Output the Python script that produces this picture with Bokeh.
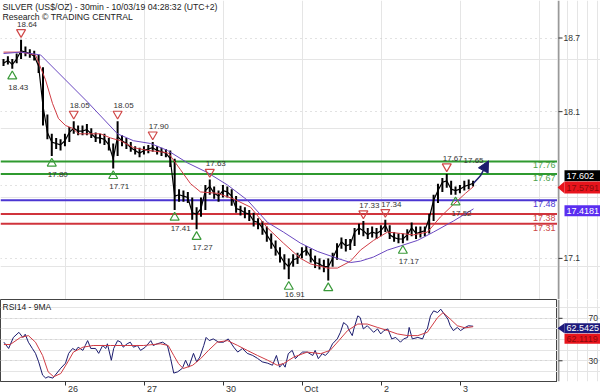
import numpy as np
from bokeh.plotting import figure
from bokeh.layouts import column, row
from bokeh.models import (Range1d, FixedTicker, Span, Label, Grid, Arrow, NormalHead)
from bokeh.embed import file_html
from bokeh.resources import INLINE
from bokeh.core.properties import value

# ---------------- data ----------------
title_text = "SILVER (US$/OZ) - 30min - 10/03/19 04:28:32 (UTC+2)"
source_text = "Research \u00a9 TRADING CENTRAL"

day_ticks = [0, 1, 2, 3, 4, 5]
day_labels = ["26", "27", "30", "Oct", "2", "3"]

# bar times (trading days after 26 Sep 00:00), regular sampling of the session
bar_start, bar_step, bar_count = -0.785, 1.0 / 18.0, 108

close = [
    18.47, 18.49, 18.46, 18.50, 18.56, 18.55, 18.54, 18.52, 18.45, 18.16,
    17.97, 17.90, 17.89, 17.88, 17.91, 17.97, 18.00, 17.98, 17.98, 17.99,
    17.96, 17.93, 17.93, 17.92, 17.88, 17.78, 17.94, 17.91, 17.89, 17.86,
    17.84, 17.82, 17.84, 17.85, 17.86, 17.84, 17.83, 17.82, 17.78, 17.51,
    17.52, 17.51, 17.50, 17.39, 17.38, 17.42, 17.55, 17.58, 17.53, 17.51,
    17.55, 17.54, 17.51, 17.42, 17.41, 17.39, 17.38, 17.33, 17.32, 17.28,
    17.23, 17.18, 17.13, 17.08, 17.03, 17.00, 17.05, 17.06, 17.10, 17.12,
    17.07, 17.03, 17.02, 17.00, 17.00, 17.06, 17.13, 17.18, 17.15, 17.16,
    17.25, 17.28, 17.26, 17.23, 17.25, 17.24, 17.26, 17.30, 17.23, 17.21,
    17.20, 17.20, 17.23, 17.28, 17.24, 17.25, 17.26, 17.35, 17.48, 17.55,
    17.61, 17.62, 17.56, 17.55, 17.56, 17.58, 17.59, 17.602]
high = [
    18.50, 18.52, 18.50, 18.54, 18.64, 18.59, 18.57, 18.56, 18.53, 18.44,
    18.10, 17.96, 17.93, 17.92, 17.96, 18.01, 18.05, 18.02, 18.02, 18.03,
    18.00, 17.97, 17.96, 17.96, 17.93, 17.89, 18.05, 17.95, 17.93, 17.90,
    17.87, 17.86, 17.87, 17.88, 17.90, 17.87, 17.86, 17.85, 17.84, 17.78,
    17.56, 17.55, 17.54, 17.50, 17.43, 17.50, 17.59, 17.63, 17.58, 17.55,
    17.59, 17.58, 17.56, 17.51, 17.44, 17.43, 17.41, 17.39, 17.35, 17.33,
    17.29, 17.24, 17.19, 17.14, 17.09, 17.06, 17.09, 17.10, 17.14, 17.15,
    17.13, 17.08, 17.06, 17.05, 17.06, 17.10, 17.17, 17.21, 17.20, 17.20,
    17.28, 17.31, 17.33, 17.28, 17.29, 17.28, 17.30, 17.34, 17.30, 17.25,
    17.24, 17.24, 17.27, 17.32, 17.29, 17.29, 17.29, 17.38, 17.52, 17.60,
    17.64, 17.67, 17.62, 17.58, 17.59, 17.62, 17.63, 17.62]
low = [
    18.45, 18.46, 18.43, 18.47, 18.50, 18.52, 18.51, 18.49, 18.40, 18.02,
    17.92, 17.80, 17.85, 17.84, 17.87, 17.90, 17.96, 17.95, 17.95, 17.95,
    17.93, 17.90, 17.89, 17.88, 17.84, 17.71, 17.80, 17.87, 17.85, 17.83,
    17.81, 17.79, 17.81, 17.82, 17.83, 17.81, 17.80, 17.79, 17.72, 17.41,
    17.47, 17.47, 17.46, 17.34, 17.27, 17.36, 17.41, 17.52, 17.49, 17.47,
    17.50, 17.50, 17.44, 17.39, 17.37, 17.35, 17.33, 17.29, 17.27, 17.23,
    17.18, 17.13, 17.08, 17.03, 16.98, 16.91, 17.00, 17.02, 17.06, 17.08,
    17.03, 16.99, 16.98, 16.96, 16.90, 17.00, 17.05, 17.13, 17.11, 17.12,
    17.15, 17.23, 17.22, 17.20, 17.21, 17.20, 17.22, 17.25, 17.20, 17.18,
    17.17, 17.17, 17.19, 17.22, 17.20, 17.21, 17.22, 17.24, 17.33, 17.46,
    17.54, 17.57, 17.52, 17.52, 17.53, 17.55, 17.56, 17.58]

ma_fast_t = [-0.785, -0.570, -0.380, -0.253, -0.165, -0.089, 0.0, 0.089, 0.165, 0.443,
             0.570, 0.696, 0.861, 1.038, 1.203, 1.304, 1.456, 1.582, 1.709, 1.924,
             2.127, 2.342, 2.557, 2.759, 2.975, 3.101, 3.316, 3.443, 3.608, 3.734,
             3.899, 4.076, 4.241, 4.405, 4.582, 4.747, 4.911, 5.063, 5.165]
ma_fast_v = [18.55, 18.55, 18.53, 18.35, 18.18, 18.07, 18.02, 18.00, 17.96, 17.96,
             17.93, 17.91, 17.86, 17.84, 17.83, 17.82, 17.70, 17.60, 17.54, 17.53,
             17.49, 17.43, 17.28, 17.17, 17.06, 17.02, 16.99, 16.99, 17.04, 17.12,
             17.19, 17.25, 17.24, 17.23, 17.25, 17.36, 17.45, 17.53, 17.5791]

ma_slow_t = [-0.785, -0.570, -0.316, 0.278, 0.658, 0.861, 1.076, 1.291, 1.544, 1.797,
             2.051, 2.304, 2.557, 2.759, 2.975, 3.190, 3.443, 3.608, 3.734, 3.899,
             4.076, 4.241, 4.456, 4.658, 4.911, 5.165]
ma_slow_v = [18.54, 18.55, 18.53, 18.19, 17.96, 17.91, 17.89, 17.84, 17.75, 17.68,
             17.59, 17.48, 17.32, 17.25, 17.17, 17.11, 17.06, 17.03, 17.04, 17.07,
             17.12, 17.15, 17.19, 17.25, 17.33, 17.4181]

pivot_high_idx = [4, 16, 26, 34, 47, 82, 87, 101]
pivot_high_lbl = ["18.64", "18.05", "18.05", "17.90", "17.63", "17.33", "17.34", "17.67"]
pivot_low_idx = [2, 11, 25, 39, 44, 65, 74, 91, 103]
pivot_low_lbl = ["18.43", "17.80", "17.71", "17.41", "17.27", "16.91", "", "17.17", "17.52"]

levels = [17.76, 17.67, 17.48, 17.38, 17.31]
level_colors = ["#2f9a2f", "#2f9a2f", "#4b36d2", "#d0343c", "#d0343c"]
level_text_colors = ["#4a9f4a", "#4a9f4a", "#4b36d2", "#cc4646", "#cc4646"]

proj_t = [5.165, 5.25, 5.355]
proj_v = [17.602, 17.655, 17.765]
proj_label = "17.65"

last_price, last_fast, last_slow = 17.602, 17.5791, 17.4181

price_ticks = [17.06, 18.12, 18.652]
price_grid = [17.06, 17.59, 18.12, 18.652]

rsi_t = [-0.78, -0.72, -0.66, -0.59, -0.54, -0.51, -0.47, -0.42, -0.38, -0.34,
         -0.29, -0.25, -0.22, -0.16, -0.13, -0.06, 0.00, 0.04, 0.09, 0.13,
         0.16, 0.22, 0.25, 0.28, 0.32, 0.38, 0.42, 0.47, 0.51, 0.53,
         0.58, 0.61, 0.66, 0.70, 0.73, 0.78, 0.82, 0.86, 0.91, 0.95,
         1.01, 1.08, 1.11, 1.16, 1.23, 1.29, 1.33, 1.37, 1.42, 1.48,
         1.52, 1.56, 1.62, 1.66, 1.70, 1.75, 1.78, 1.82, 1.87, 1.94,
         2.00, 2.06, 2.13, 2.18, 2.24, 2.30, 2.37, 2.43, 2.49, 2.56,
         2.62, 2.67, 2.71, 2.75, 2.78, 2.82, 2.87, 2.91, 2.95, 3.00,
         3.06, 3.13, 3.16, 3.20, 3.25, 3.29, 3.33, 3.38, 3.44, 3.48,
         3.52, 3.57, 3.58, 3.63, 3.65, 3.70, 3.73, 3.77, 3.82, 3.86,
         3.90, 3.95, 3.99, 4.03, 4.08, 4.13, 4.18, 4.24, 4.28, 4.33,
         4.35, 4.39, 4.46, 4.52, 4.56, 4.58, 4.62, 4.66, 4.71, 4.75,
         4.78, 4.84, 4.87, 4.91, 4.96, 5.00, 5.06, 5.10, 5.16]
rsi_v = [47.5, 41.6, 52, 56.8, 52, 55, 47.5, 41.6, 37, 29,
         16.5, 13.7, 15, 13.7, 16.5, 23, 27.7, 37, 41.6, 39.8,
         42.8, 39.8, 44.4, 49, 41.6, 41.6, 37, 44.4, 41.6, 46,
         30.5, 41.6, 49, 47.5, 42.8, 46, 47.5, 42.8, 44.4, 39.8,
         42.8, 49, 44.4, 46, 47.5, 44.4, 32.3, 18.4, 19.6, 23,
         30.5, 24, 37, 29, 33.5, 44.4, 52, 49, 50.6, 47.5,
         47.5, 50.6, 42.8, 38.2, 41.6, 37, 35, 32.3, 29, 27.7,
         25.8, 35, 24, 27.4, 24, 36.7, 39.8, 32, 35, 38.2,
         38.2, 35, 39.8, 32, 36.7, 35, 38.2, 46, 50.6, 56.8,
         66, 63, 60, 53.7, 60, 72.3, 70.7, 60, 63, 60,
         56.8, 60, 55.3, 58.4, 60, 50.6, 52, 47.5, 50.6, 52,
         61.4, 50.6, 52, 50.6, 58.4, 60, 72.3, 77, 75.4, 78.6,
         75.4, 69.3, 63, 58.4, 61.4, 58.4, 61.4, 63, 62.5425]
rsi_ma_t = [-0.78, -0.70, -0.57, -0.47, -0.38, -0.29, -0.22, -0.15, -0.06, 0.03,
            0.10, 0.22, 0.35, 0.57, 0.78, 0.99, 1.20, 1.30, 1.37, 1.43,
            1.49, 1.61, 1.71, 1.81, 1.92, 2.05, 2.18, 2.30, 2.43, 2.56,
            2.68, 2.76, 2.89, 3.06, 3.23, 3.35, 3.46, 3.57, 3.70, 3.82,
            3.95, 4.08, 4.20, 4.33, 4.46, 4.58, 4.71, 4.78, 4.87, 4.96,
            5.06, 5.16]
rsi_ma_v = [45.3, 45.3, 52, 53.7, 47.5, 35, 19.6, 15, 18, 29,
            38.2, 42.8, 44.4, 44.4, 44.4, 44.4, 46, 44.4, 35, 27.4,
            22.7, 25.8, 32, 39.8, 47.5, 49, 44.4, 39.8, 35, 30.5,
            25.8, 27.4, 33.5, 38.2, 36.7, 39.8, 49, 58.4, 64.6, 64.6,
            61.4, 58.4, 55.3, 53.7, 53.7, 56.8, 70.7, 75.4, 69.3, 63,
            61.0, 62.1119]
rsi_ticks = [30, 70]
rsi_grid = [30, 50, 70]

# ---------------- layout constants ----------------
FONT = "Liberation Sans"
X0, X1 = -0.823, 6.228
P_LO, P_HI = 16.763, 18.923
R_LO, R_HI = 10.5, 87.7
FW, SW, H_MAIN, H_RSI = 557, 43, 299, 82
PX = (P_HI - P_LO) / H_MAIN          # price units per pixel
RPX = (R_HI - R_LO) / H_RSI

t = bar_start + np.arange(bar_count) * bar_step
close = np.array(close); high = np.array(high); low = np.array(low)

NAVY = "#1c1c6e"
RED_MA = "#d03c44"
PURPLE = "#6a48c0"
GRID_KW = dict(grid_line_color="#c4c4c4", grid_line_dash="1 4")


def base_fig(fw, fh, xr, yr, x_axis=None):
    f = figure(frame_width=fw, frame_height=fh, x_range=xr, y_range=yr,
               x_axis_location=x_axis, y_axis_location=None,
               toolbar_location=None, output_backend="svg",
               min_border_left=0, min_border_top=0, min_border_bottom=0, min_border_right=0)
    f.outline_line_color = None
    f.background_fill_color = "white"
    f.border_fill_color = "white"
    return f


# ---------------- main price panel ----------------
p1 = base_fig(FW, H_MAIN, Range1d(X0, X1), Range1d(P_LO, P_HI))
p1.add_layout(Grid(dimension=1, ticker=FixedTicker(ticks=price_grid), **GRID_KW))

for lv, c in zip(levels, level_colors):
    p1.add_layout(Span(location=lv, dimension="width", line_color=c, line_width=2,
                       level="underlay"))

p1.segment(x0=t, y0=low, x1=t, y1=high, line_color="black", line_width=2)
p1.line(t, close, line_color="black", line_width=1.2)
p1.line(ma_fast_t, ma_fast_v, line_color=RED_MA, line_width=1)
p1.line(ma_slow_t, ma_slow_v, line_color=PURPLE, line_width=1)

# pivots
ht = t[pivot_high_idx]; hv = high[pivot_high_idx]
lt = t[pivot_low_idx]; lv_ = low[pivot_low_idx]
low_off = [min(18.5, (v - P_LO) / PX - 5.5) for v in lv_]
p1.scatter(ht, hv + 7.5 * PX, marker="inverted_triangle", size=9, fill_color=None,
           line_color="#d04848", line_width=1.2)
p1.scatter(lt, lv_ - 7.5 * PX, marker="triangle", size=9, fill_color=None,
           line_color="#3a9a3a", line_width=1.2)
p1.text(x=ht, y=hv, text=pivot_high_lbl, x_offset=6, y_offset=-15.5,
        text_align="center", text_baseline="middle", text_font=value(FONT),
        text_font_size="8px", text_color="#333333")
p1.text(x=lt, y=lv_, text=pivot_low_lbl, x_offset=6, y_offset=low_off,
        text_align="center", text_baseline="middle", text_font=value(FONT),
        text_font_size="8px", text_color="#333333")

# projection arrow
p1.line(proj_t[:2], proj_v[:2], line_color=NAVY, line_width=1.5)
p1.add_layout(Arrow(end=NormalHead(size=11, fill_color=NAVY, line_color=NAVY),
                    x_start=proj_t[1], y_start=proj_v[1], x_end=proj_t[2], y_end=proj_v[2],
                    line_color=NAVY, line_width=1.5))
p1.text(x=[proj_t[2]], y=[proj_v[2]], text=[proj_label], x_offset=-15, y_offset=0,
        text_align="center", text_baseline="middle", text_font=value(FONT),
        text_font_size="8px", text_color="#333333")

# level labels
for lv, c in zip(levels, level_text_colors):
    p1.add_layout(Label(x=FW - 2, y=lv, x_units="screen", text=f"{lv:.2f}",
                        text_align="right", text_baseline="top", y_offset=-1,
                        text_font=FONT, text_font_size="9px", text_color=c))

# header
p1.add_layout(Label(x=2, y=H_MAIN - 6, x_units="screen", y_units="screen", text=title_text,
                    text_baseline="middle", text_font=FONT, text_font_size="8.7px",
                    text_color="#222222"))
p1.add_layout(Label(x=2, y=H_MAIN - 16.5, x_units="screen", y_units="screen", text=source_text,
                    text_baseline="middle", text_font=FONT, text_font_size="8.7px",
                    text_color="#222222"))


# ---------------- right-hand scale strips ----------------
def scale_strip(yr, fh, ticks, labels, label_x):
    s = base_fig(SW, fh, Range1d(0, SW), yr)
    s.segment(x0=[1], y0=[yr.start], x1=[1], y1=[yr.end], line_color="#999999", line_width=2)
    s.segment(x0=[1] * len(ticks), y0=ticks, x1=[5] * len(ticks), y1=ticks,
              line_color="#333333", line_width=1)
    s.text(x=[label_x] * len(ticks), y=ticks, text=labels, text_baseline="middle",
           text_font=value(FONT), text_font_size="8.5px", text_color="#333333")
    return s


def value_box(s, yv, txt, bg, fg, yoff, ppx, arrow=False, h=11):
    yc = yv + yoff * ppx
    s.rect(x=[25], y=[yc], width=36, height=h, height_units="screen",
           fill_color=bg, line_color=None)
    if arrow:
        s.patch(x=[0, 7, 7], y=[yc, yc + h / 2 * ppx, yc - h / 2 * ppx],
                fill_color=bg, line_color=None)
    s.text(x=[9], y=[yc], text=[txt], text_baseline="middle", text_font=value(FONT),
           text_font_size="9px", text_color=fg)


p1s = scale_strip(p1.y_range, H_MAIN, price_ticks, [f"{v:.1f}" for v in price_ticks], 6)
value_box(p1s, last_price, f"{last_price:.3f}", "black", "white", 7.5, PX)
value_box(p1s, last_fast, f"{last_fast:.4f}", "#e8141c", "#8a0a0a", -1, PX, arrow=True, h=12)
value_box(p1s, last_slow, f"{last_slow:.4f}", "#5a2ef0", "white", -2, PX)

# ---------------- RSI panel ----------------
p2 = base_fig(FW, H_RSI, p1.x_range, Range1d(R_LO, R_HI), x_axis="below")
p2.outline_line_color = "#444444"
p2.xgrid.visible = False
p2.add_layout(Grid(dimension=1, ticker=FixedTicker(ticks=rsi_grid), **GRID_KW))

nb = "\u00a0"
pads = [6, 6, 6, 7, 4, 4]
p2.xaxis.ticker = FixedTicker(ticks=day_ticks)
p2.xaxis.major_label_overrides = {d: nb * k + lab for d, lab, k in zip(day_ticks, day_labels, pads)}
p2.xaxis.axis_line_color = "#444444"
p2.xaxis.major_tick_out = 4
p2.xaxis.major_tick_in = 0
p2.xaxis.minor_tick_line_color = None
p2.xaxis.major_tick_line_color = "#333333"
p2.xaxis.major_label_standoff = -2
p2.xaxis.major_label_text_font = FONT
p2.xaxis.major_label_text_font_size = "9px"
p2.xaxis.major_label_text_color = "#333333"

p2.line(rsi_t, rsi_v, line_color=NAVY, line_width=1)
p2.line(rsi_ma_t, rsi_ma_v, line_color=RED_MA, line_width=1)

p2.add_layout(Label(x=2, y=H_RSI - 7, x_units="screen", y_units="screen", text="RSI14 - 9MA",
                    text_baseline="middle", text_font=FONT, text_font_size="8.5px",
                    text_color="#222222"))

p2s = scale_strip(p2.y_range, H_RSI, rsi_ticks, [str(v) for v in rsi_ticks], 31)
p2s.min_border_bottom = 13
value_box(p2s, rsi_v[-1], f"{rsi_v[-1]:.4f}", "#1e1a7c", "white", -2, RPX, arrow=True, h=10)
value_box(p2s, rsi_ma_v[-1], f"{rsi_ma_v[-1]:.4f}", "#e8141c", "#8a0a0a", -12, RPX, h=10)

layout = column(row(p1, p1s, spacing=0), row(p2, p2s, spacing=0), spacing=0)
open("out.html", "w").write(file_html(layout, INLINE))
